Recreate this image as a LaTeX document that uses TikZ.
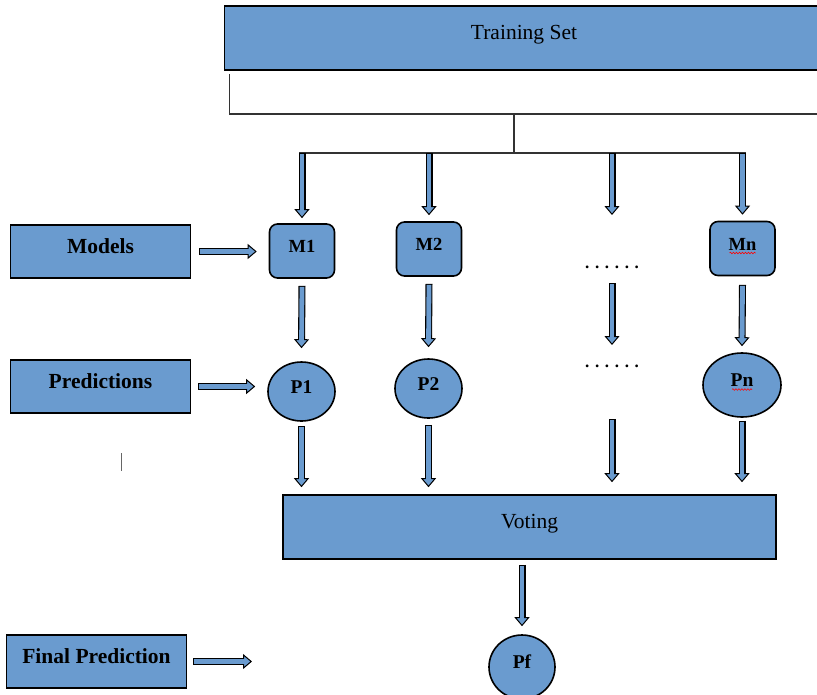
\documentclass[tikz,border=0pt]{standalone}
\usepackage{fontspec}
\setmainfont{Liberation Serif}
\usetikzlibrary{arrows.meta,shapes.geometric,decorations.pathmorphing}
\definecolor{boxblue}{RGB}{106,155,207}

\begin{document}
\begin{tikzpicture}[x=1pt,y=-1pt,
    box/.style={draw=black,line width=1.6pt,fill=boxblue,inner sep=0pt,text height=0.6em,text depth=0.3em},
    tag/.style={box,font=\fontsize{21.5}{24}\selectfont\bfseries,minimum width=180pt,minimum height=53pt},
    model/.style={box,rounded corners=8pt,font=\fontsize{18.5}{21}\selectfont\bfseries,minimum width=65pt,minimum height=54pt},
    pred/.style={box,ellipse,font=\fontsize{19.5}{22}\selectfont\bfseries,minimum width=67pt,minimum height=59pt},
    dots/.style={font=\fontsize{17}{19}\selectfont\bfseries,inner sep=0pt},
    flow/.style={line width=7pt,draw=black,
        -{Triangle[length=9pt,width=15pt,fill=boxblue,line width=1pt]},
        postaction={draw=boxblue,line width=4.8pt,arrows=-,shorten <=1.1pt,shorten >=7pt}},
    wire/.style={line width=1.3pt,draw=black!80},
    spell/.style={red,line width=0.6pt,decorate,decoration={snake,amplitude=0.8pt,segment length=3pt}}]
        \useasboundingbox (0,0) rectangle (817,694);

        \coordinate (bendL) at (229.5,74);
        \coordinate (bendR) at (830,114);
        \coordinate (fork)  at (514,153);
        \coordinate (fpend) at (252,660);

        \node[box,font=\fontsize{21.5}{24}\selectfont,minimum width=599pt,minimum height=64pt] (train) at (524,38) {Training Set};
        \node[box,font=\fontsize{21.5}{24}\selectfont,minimum width=493pt,minimum height=64pt] (vote) at (529.5,527) {Voting};

        \node[tag] (models) at (100.5,251.5) {Models};
        \node[tag] (preds)  at (100.5,386.5) {Predictions};
        \node[tag] (final)  at (96.5,661.5)  {Final Prediction};

        \node[model] (m1) at (302,251)     {M1};
        \node[model] (m2) at (429,249)     {M2};
        \node[model] (mn) at (742.5,248.5) {Mn};

        \node[pred] (p1) at (301.5,391.5) {P1};
        \node[pred] (p2) at (428.5,388.5) {P2};
        \node[pred,minimum width=78pt,minimum height=64pt] (pn) at (742,385) {Pn};
        \node[pred,minimum width=66pt,minimum height=64pt] (pf) at (522,667) {Pf};

        \node[dots] (dots1) at (612,267) {. . . . . .};
        \node[dots] (dots2) at (612,366) {. . . . . .};

        % split of the training set
        \draw[wire] (bendL) |- (bendR);
        \draw[wire] (fork |- bendR) -- (fork);
        \draw[wire] ([xshift=-3pt]fork -| m1) -- ([xshift=3pt]fork -| mn);

        \draw[flow] (fork -| m1)    -- ([yshift=5pt]m1.north);
        \draw[flow] (fork -| m2)    -- ([yshift=6pt]m2.north);
        \draw[flow] (fork -| dots1) -- ([yshift=52pt]dots1.center);
        \draw[flow] (fork -| mn)    -- ([yshift=6pt]mn.north);

        % models to predictions
        \draw[flow] ([yshift=-7pt]m1.south)      -- ([yshift=13pt]p1.north);
        \draw[flow] ([yshift=-7pt]m2.south)      -- ([yshift=11pt]p2.north);
        \draw[flow] ([yshift=-16pt]dots1.center) -- ([yshift=21pt]dots2.center);
        \draw[flow] ([yshift=-8.5pt]mn.south)    -- ([yshift=6pt]pn.north);

        % predictions to voting
        \draw[flow] ([yshift=-4pt]p1.south)      -- ([yshift=7pt]vote.north -| p1);
        \draw[flow] ([yshift=-6pt]p2.south)      -- ([yshift=7pt]vote.north -| p2);
        \draw[flow] ([yshift=-53pt]dots2.center) -- ([yshift=12pt]vote.north -| dots2);
        \draw[flow] ([yshift=-3pt]pn.south)      -- ([yshift=12pt]vote.north -| pn);
        \draw[flow] ([yshift=-5pt]vote.south -| pf) -- ([yshift=8pt]pf.north);

        % legend arrows
        \draw[flow] ([xshift=8pt]models.east) -- ([xshift=-12pt]models.east -| m1.west);
        \draw[flow] ([xshift=7pt]preds.east)  -- ([xshift=-12pt]preds.east -| p1.west);
        \draw[flow] ([xshift=6pt]final.east)  -- (final.east -| fpend);

        \draw[line width=1pt,black!60] (121,453) -- (121,471);

        \draw[spell] ([xshift=-13pt,yshift=-3pt]mn.base) -- ++(26,0);
        \draw[spell] ([xshift=-10pt,yshift=-3pt]pn.base) -- ++(20,0);
    \end{tikzpicture}
\end{document}
